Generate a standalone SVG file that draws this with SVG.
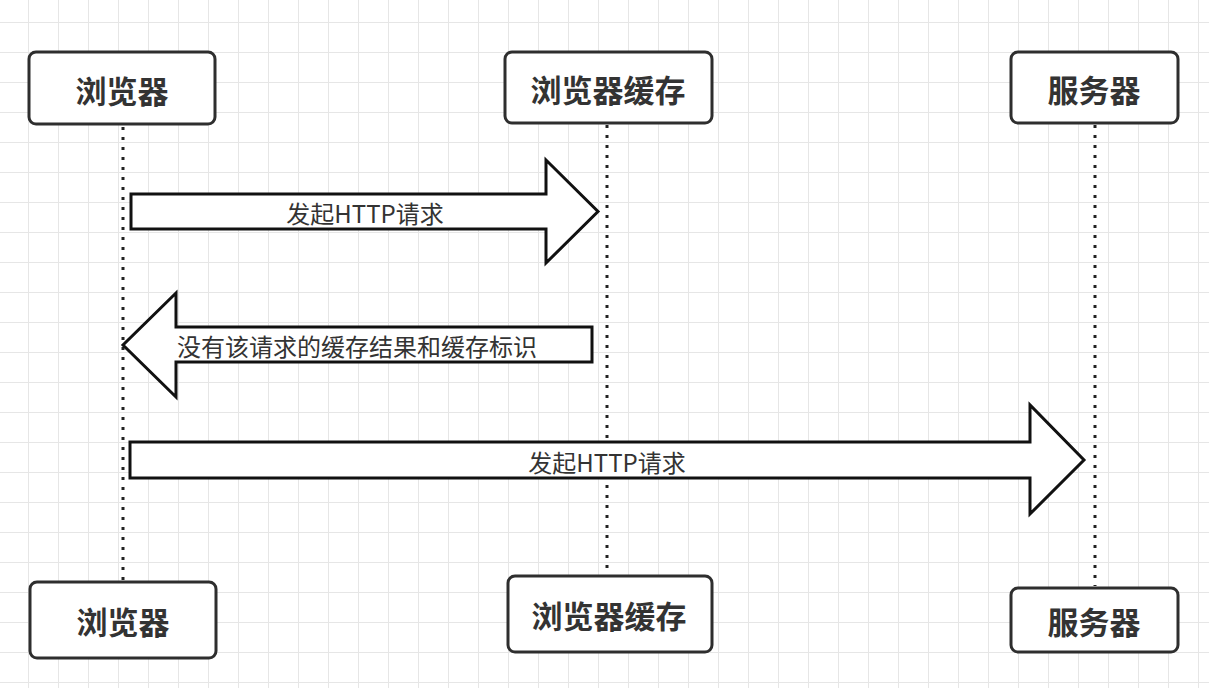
<svg xmlns="http://www.w3.org/2000/svg" width="1209" height="688" viewBox="0 0 1209 688">
  <defs>
    <pattern id="grid" x="28" y="22" width="30" height="30" patternUnits="userSpaceOnUse">
      <path d="M0.5 0 V30 M0 0.5 H30" fill="none" stroke="#e6e6e6" stroke-width="1"/>
    </pattern>
    <style>
      .node rect { fill: #ffffff; stroke: #2e2e2e; stroke-width: 3; }
      .node text { font-family: "Noto Sans CJK SC", "Liberation Sans", sans-serif; font-size: 31px; font-weight: 700; fill: #333333; text-anchor: middle; dominant-baseline: central; }
      .life { fill: none; stroke: #222222; stroke-width: 3; stroke-dasharray: 3 7; }
      .arrow { fill: #ffffff; stroke: #111111; stroke-width: 3; stroke-linejoin: miter; }
      .lbl { font-family: "Noto Sans CJK SC", "Liberation Sans", sans-serif; font-size: 24px; fill: #333333; text-anchor: middle; dominant-baseline: central; }
    </style>
  </defs>
  <rect width="1209" height="688" fill="#ffffff"/>
  <rect width="1209" height="688" fill="url(#grid)"/>

  <g id="connectors">
    <line class="life" x1="123" y1="127" x2="123" y2="580"/>
    <line class="life" x1="607" y1="125" x2="607" y2="574"/>
    <line class="life" x1="1095" y1="125" x2="1095" y2="586"/>
    <g id="msg1">
      <polygon class="arrow" points="131,194 546,194 546,160 598,211.5 546,263 546,229 131,229"/>
      <text class="lbl" x="365" y="212">发起HTTP请求</text>
    </g>
    <g id="msg2">
      <polygon class="arrow" points="592,327 176,327 176,293 123,345 176,397 176,362 592,362"/>
      <text class="lbl" x="357" y="345">没有该请求的缓存结果和缓存标识</text>
    </g>
    <g id="msg3">
      <polygon class="arrow" points="130,442 1030,442 1030,405 1084,460 1030,514 1030,478 130,478"/>
      <text class="lbl" x="607" y="461">发起HTTP请求</text>
    </g>
  </g>

  <g id="browser-top" class="node">
    <rect x="29" y="52" width="186" height="72" rx="7"/>
    <text x="122" y="89">浏览器</text>
  </g>
  <g id="cache-top" class="node">
    <rect x="505" y="52" width="207" height="71" rx="7"/>
    <text x="608" y="88">浏览器缓存</text>
  </g>
  <g id="server-top" class="node">
    <rect x="1011" y="52" width="167" height="71" rx="7"/>
    <text x="1094" y="88">服务器</text>
  </g>
  <g id="browser-bottom" class="node">
    <rect x="30" y="582" width="186" height="76" rx="7"/>
    <text x="123" y="620">浏览器</text>
  </g>
  <g id="cache-bottom" class="node">
    <rect x="508" y="576" width="204" height="76" rx="7"/>
    <text x="609" y="614">浏览器缓存</text>
  </g>
  <g id="server-bottom" class="node">
    <rect x="1011" y="588" width="167" height="64" rx="7"/>
    <text x="1094" y="620">服务器</text>
  </g>
</svg>
